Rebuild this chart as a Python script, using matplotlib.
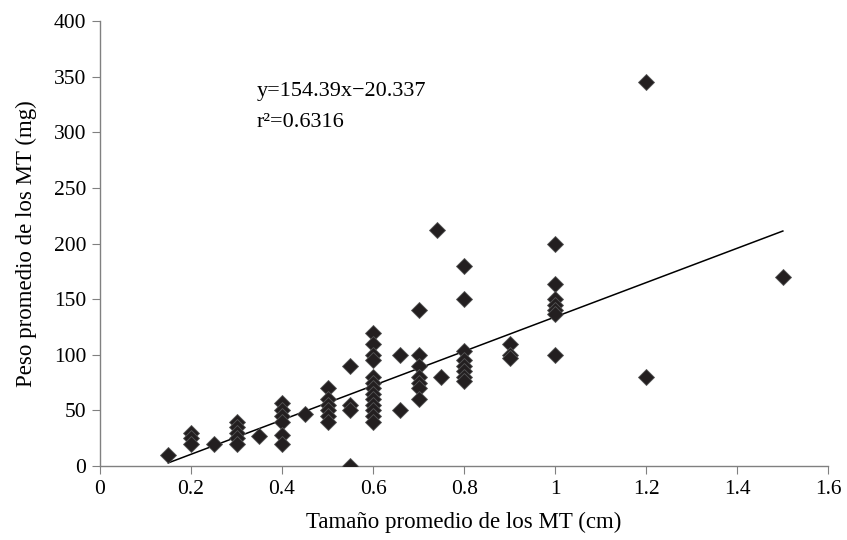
import numpy as np
import matplotlib
matplotlib.use('Agg')
import matplotlib.pyplot as plt

plt.rcParams['font.family'] = ['Liberation Serif', 'DejaVu Serif']

# tamaño promedio (cm) y peso promedio (mg) de los MT
size_cm = [0.15,
           0.2, 0.2, 0.2,
           0.25,
           0.3, 0.3, 0.3, 0.3, 0.3,
           0.35,
           0.4, 0.4, 0.4, 0.4, 0.4, 0.4,
           0.45,
           0.5, 0.5, 0.5, 0.5, 0.5, 0.5,
           0.55, 0.55, 0.55, 0.55,
           0.6, 0.6, 0.6, 0.6, 0.6, 0.6, 0.6, 0.6, 0.6, 0.6, 0.6, 0.6, 0.6,
           0.66, 0.66,
           0.7, 0.7, 0.7, 0.7, 0.7, 0.7, 0.7,
           0.74, 0.75,
           0.8, 0.8, 0.8, 0.8, 0.8, 0.8, 0.8, 0.8,
           0.9, 0.9, 0.9,
           1.0, 1.0, 1.0, 1.0, 1.0, 1.0, 1.0,
           1.2, 1.2,
           1.5]
weight_mg = [10,
             30, 25, 20,
             20,
             40, 35, 30, 25, 20,
             27,
             57, 50, 45, 40, 28, 20,
             47,
             70, 60, 55, 50, 45, 40,
             90, 55, 50, 0,
             120, 110, 100, 95, 80, 75, 70, 65, 60, 55, 50, 45, 40,
             100, 50,
             140, 100, 90, 80, 75, 70, 60,
             212, 80,
             180, 150, 103, 95, 90, 85, 80, 76,
             110, 100, 97,
             200, 164, 150, 145, 140, 137, 100,
             345, 80,
             170]

slope = 154.39
intercept = -20.337
r2 = 0.6316

fig = plt.figure(figsize=(8.47, 5.40), dpi=100)
ax = fig.add_axes([0.118, 0.137, 0.86, 0.824])

ax.plot(size_cm, weight_mg, 'D', color='#231f20', markeredgecolor='#555555',
        markeredgewidth=0.6, markersize=8.5, zorder=3)

xs = np.array([min(size_cm), max(size_cm)])
ax.plot(xs, slope * xs + intercept, '-', color='black', linewidth=1.1, zorder=2)

ax.text(0.345, 337, f'y={slope}x\u2212{-intercept}', fontsize=16, va='center')
ax.text(0.345, 309, f'r\u00b2={r2}', fontsize=16, va='center')

ax.set_xlim(0, 1.6)
ax.set_ylim(0, 400)
ax.set_xticks(np.arange(0, 1.61, 0.2))
ax.set_xticklabels(['0', '0.2', '0.4', '0.6', '0.8', '1', '1.2', '1.4', '1.6'])
ax.set_yticks(np.arange(0, 401, 50))

for s in ['top', 'right']:
  ax.spines[s].set_visible(False)
for s in ['left', 'bottom']:
  ax.spines[s].set_color('#808080')
  ax.spines[s].set_linewidth(1.0)
ax.tick_params(direction='out', length=6, color='#808080', labelsize=15.5, pad=4)

ax.set_xlabel('Tamaño promedio de los MT (cm)', fontsize=16.5, labelpad=9)
ax.set_ylabel('Peso promedio de los MT (mg)', fontsize=16.5, labelpad=12)

fig.savefig('out.png', dpi=100)
